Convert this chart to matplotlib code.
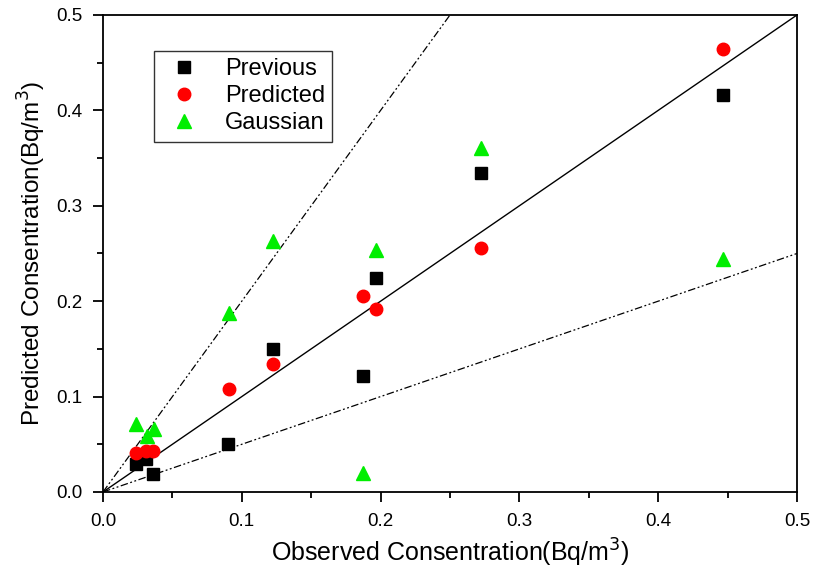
import matplotlib
matplotlib.use("Agg")
import matplotlib.pyplot as plt
import numpy as np

plt.rcParams['font.family'] = ['Liberation Sans', 'DejaVu Sans']

# observed / predicted concentrations (Bq/m^3)
prev_x = [0.024, 0.031, 0.036, 0.090, 0.1225, 0.187, 0.197, 0.272, 0.447]
prev_y = [0.029, 0.035, 0.019, 0.050, 0.150, 0.122, 0.224, 0.334, 0.416]

pred_x = [0.024, 0.031, 0.036, 0.091, 0.1225, 0.187, 0.197, 0.272, 0.447]
pred_y = [0.041, 0.043, 0.043, 0.108, 0.134, 0.205, 0.192, 0.256, 0.464]

gaus_x = [0.024, 0.032, 0.037, 0.091, 0.1225, 0.187, 0.197, 0.272, 0.447]
gaus_y = [0.071, 0.059, 0.066, 0.188, 0.263, 0.020, 0.254, 0.361, 0.244]

# reference lines: 1:1, factor 2 bounds
line_x = [0.0, 0.5]
ticks = [0.0, 0.1, 0.2, 0.3, 0.4, 0.5]

fig = plt.figure(figsize=(8.13, 5.72), dpi=100)
ax = fig.add_axes([0.1267, 0.1399, 0.8536, 0.8339])

ax.plot(line_x, line_x, color='black', lw=1.0)
ax.plot([0, 0.25], [0, 0.5], color='black', lw=0.9, dashes=(6, 2, 1.5, 2, 1.5, 2))
ax.plot(line_x, [0, 0.25], color='black', lw=0.9, dashes=(6, 2, 1.5, 2, 1.5, 2))

ax.plot(prev_x, prev_y, 's', color='black', ms=8, ls='none', label='Previous')
ax.plot(pred_x, pred_y, 'o', color='red', ms=9, ls='none', label='Predicted')
ax.plot(gaus_x, gaus_y, '^', color='#00ee00', ms=10, ls='none', label='Gaussian')

ax.set_xlim(0, 0.5)
ax.set_ylim(0, 0.5)
ax.set_xticks(ticks)
ax.set_yticks(ticks)
ax.set_xticks(np.arange(0.05, 0.5, 0.1), minor=True)
ax.set_yticks(np.arange(0.05, 0.5, 0.1), minor=True)
ax.tick_params(which='major', direction='out', length=7, width=1.3, labelsize=13.5, pad=8)
ax.tick_params(which='minor', direction='out', length=4, width=1.3)
for s in ax.spines.values():
    s.set_linewidth(1.3)

ax.set_xlabel('Observed Consentration(Bq/m$^3$)', fontsize=18, labelpad=5)
ax.set_ylabel('Predicted Consentration(Bq/m$^3$)', fontsize=17.5, labelpad=6)

leg = ax.legend(loc='upper left', bbox_to_anchor=(0.0735, 0.9245), fontsize=17,
                frameon=True, fancybox=False, edgecolor='black', borderpad=0.3,
                handletextpad=0.8, labelspacing=0.22, handlelength=1.9,
                borderaxespad=0)
leg.get_frame().set_linewidth(1.0)

fig.savefig('out.png', dpi=100)
